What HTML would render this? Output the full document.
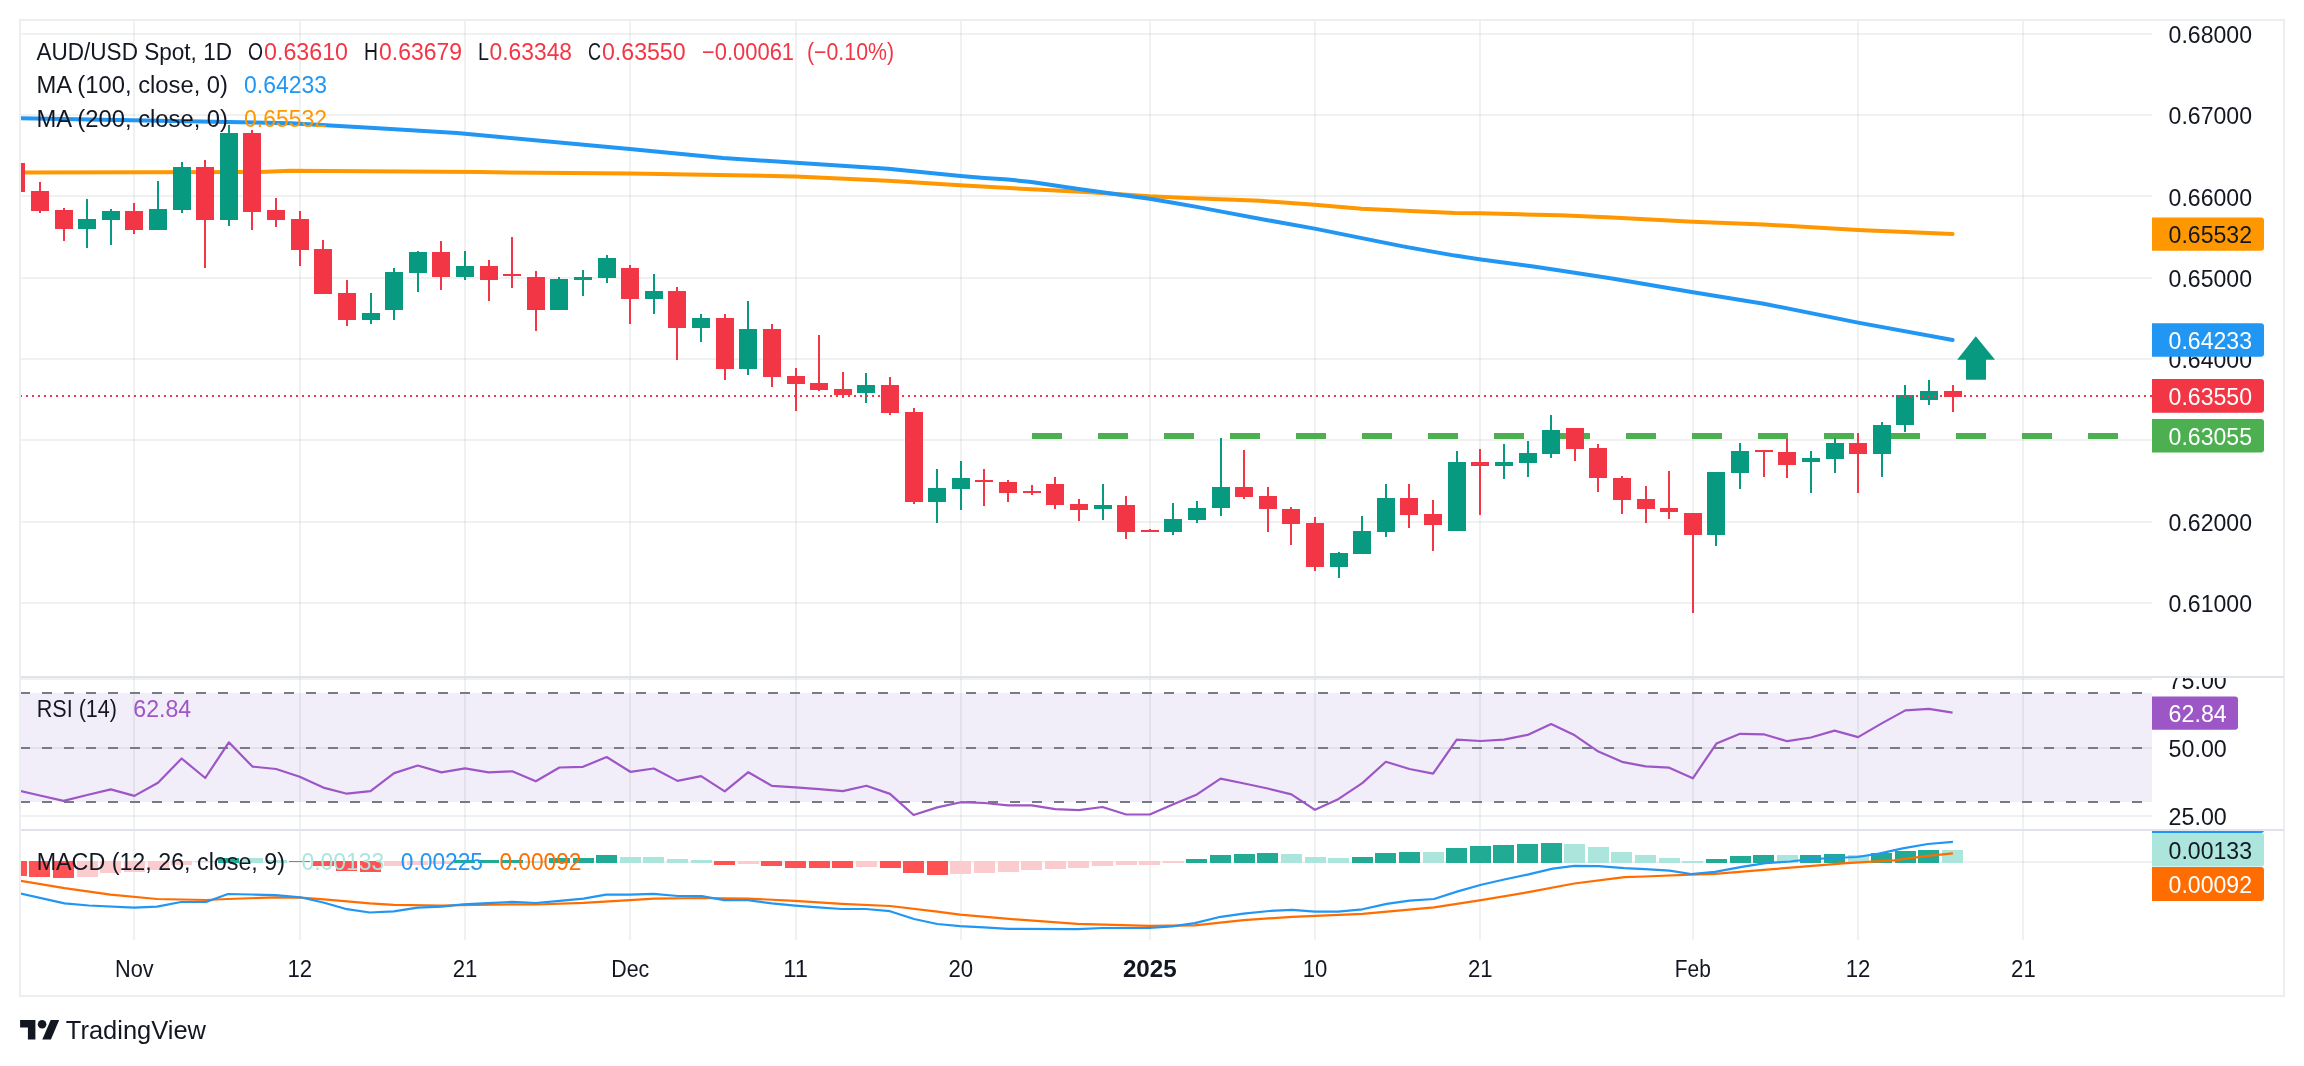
<!DOCTYPE html><html><head><meta charset="utf-8"><style>html,body{margin:0;padding:0;background:#fff;width:2304px;height:1066px;overflow:hidden}svg{display:block;will-change:transform}text{font-family:"Liberation Sans",sans-serif}</style></head><body>
<svg width="2304" height="1066" viewBox="0 0 2304 1066">
<defs><clipPath id="cm"><rect x="21" y="21" width="2131" height="655"/></clipPath><clipPath id="cr"><rect x="21" y="678" width="2131" height="152"/></clipPath><clipPath id="cd"><rect x="21" y="831" width="2131" height="109"/></clipPath><clipPath id="cra"><rect x="2152" y="678" width="132" height="152"/></clipPath><clipPath id="cda"><rect x="2152" y="831" width="132" height="109"/></clipPath></defs>
<rect width="2304" height="1066" fill="#fff"/>
<rect x="21" y="693" width="2131" height="109" fill="#f2eef9"/>
<rect x="133" y="21" width="2" height="919" fill="rgba(30,60,50,0.065)"/>
<rect x="299" y="21" width="2" height="919" fill="rgba(30,60,50,0.065)"/>
<rect x="464" y="21" width="2" height="919" fill="rgba(30,60,50,0.065)"/>
<rect x="629" y="21" width="2" height="919" fill="rgba(30,60,50,0.065)"/>
<rect x="795" y="21" width="2" height="919" fill="rgba(30,60,50,0.065)"/>
<rect x="960" y="21" width="2" height="919" fill="rgba(30,60,50,0.065)"/>
<rect x="1149" y="21" width="2" height="919" fill="rgba(30,60,50,0.065)"/>
<rect x="1314" y="21" width="2" height="919" fill="rgba(30,60,50,0.065)"/>
<rect x="1479" y="21" width="2" height="919" fill="rgba(30,60,50,0.065)"/>
<rect x="1692" y="21" width="2" height="919" fill="rgba(30,60,50,0.065)"/>
<rect x="1857" y="21" width="2" height="919" fill="rgba(30,60,50,0.065)"/>
<rect x="2022" y="21" width="2" height="919" fill="rgba(30,60,50,0.065)"/>
<rect x="21" y="33" width="2131" height="2" fill="rgba(30,60,50,0.065)"/>
<rect x="21" y="114" width="2131" height="2" fill="rgba(30,60,50,0.065)"/>
<rect x="21" y="195" width="2131" height="2" fill="rgba(30,60,50,0.065)"/>
<rect x="21" y="277" width="2131" height="2" fill="rgba(30,60,50,0.065)"/>
<rect x="21" y="358" width="2131" height="2" fill="rgba(30,60,50,0.065)"/>
<rect x="21" y="439" width="2131" height="2" fill="rgba(30,60,50,0.065)"/>
<rect x="21" y="521" width="2131" height="2" fill="rgba(30,60,50,0.065)"/>
<rect x="21" y="602" width="2131" height="2" fill="rgba(30,60,50,0.065)"/>
<rect x="21" y="678" width="2131" height="2" fill="rgba(30,60,50,0.065)"/>
<rect x="21" y="747" width="2131" height="2" fill="rgba(30,60,50,0.065)"/>
<rect x="21" y="815" width="2131" height="2" fill="rgba(30,60,50,0.065)"/>
<rect x="21" y="861" width="2131" height="2" fill="rgba(30,60,50,0.065)"/>
<g clip-path="url(#cm)">
<polyline points="20,172.5 260,171.9 291,170.8 480,172.1 630,173.6 796,176.4 888,180.8 960,185.2 1031.6,189.3 1090,192.3 1149.5,196.3 1194,198.2 1260,200.8 1314.7,204.8 1361.6,208.7 1416,211.3 1455,213 1480,213.2 1520,214.3 1560,215.2 1612,217.4 1693,221.7 1764,224.5 1858,230 1952.6,234" fill="none" stroke="#ff9800" stroke-width="4" stroke-linejoin="round" stroke-linecap="round"/>
<polyline points="20,118.3 228,121.9 291,123.3 374,128 457,133 500,137 629.7,148.9 723,158 795.8,162.8 888,168.8 960.6,176 984.3,178 1007.8,179.6 1031.4,181.9 1055,185.4 1078.6,189.1 1102.2,192.3 1125.8,195.6 1149.5,198.8 1173,202.8 1196.7,206.9 1220.3,211.4 1267.5,220.2 1314.7,228.6 1358,237.4 1403,246.4 1455,255.6 1481,259.4 1533.4,266.6 1560,270.5 1612,278.6 1693,292.2 1763.8,303.7 1858,322.6 1952.6,340" fill="none" stroke="#2196f3" stroke-width="4" stroke-linejoin="round" stroke-linecap="round"/>
<line x1="1032" y1="436" x2="2118" y2="436" stroke="#4caf50" stroke-width="6" stroke-dasharray="30 36"/>
<rect x="15" y="163" width="2" height="29" fill="#f23645"/>
<rect x="7" y="163" width="18" height="29" fill="#f23645"/>
<rect x="39" y="182" width="2" height="31" fill="#f23645"/>
<rect x="31" y="191" width="18" height="20" fill="#f23645"/>
<rect x="63" y="208" width="2" height="33" fill="#f23645"/>
<rect x="55" y="210" width="18" height="19" fill="#f23645"/>
<rect x="86" y="199" width="2" height="49" fill="#089981"/>
<rect x="78" y="219" width="18" height="10" fill="#089981"/>
<rect x="110" y="209" width="2" height="36" fill="#089981"/>
<rect x="102" y="211" width="18" height="9" fill="#089981"/>
<rect x="133" y="203" width="2" height="31" fill="#f23645"/>
<rect x="125" y="211" width="18" height="19" fill="#f23645"/>
<rect x="157" y="181" width="2" height="49" fill="#089981"/>
<rect x="149" y="209" width="18" height="21" fill="#089981"/>
<rect x="181" y="162" width="2" height="51" fill="#089981"/>
<rect x="173" y="167" width="18" height="43" fill="#089981"/>
<rect x="204" y="160" width="2" height="108" fill="#f23645"/>
<rect x="196" y="167" width="18" height="53" fill="#f23645"/>
<rect x="228" y="125" width="2" height="101" fill="#089981"/>
<rect x="220" y="133" width="18" height="87" fill="#089981"/>
<rect x="251" y="130" width="2" height="100" fill="#f23645"/>
<rect x="243" y="133" width="18" height="79" fill="#f23645"/>
<rect x="275" y="198" width="2" height="29" fill="#f23645"/>
<rect x="267" y="210" width="18" height="10" fill="#f23645"/>
<rect x="299" y="211" width="2" height="55" fill="#f23645"/>
<rect x="291" y="219" width="18" height="31" fill="#f23645"/>
<rect x="322" y="240" width="2" height="54" fill="#f23645"/>
<rect x="314" y="249" width="18" height="45" fill="#f23645"/>
<rect x="346" y="280" width="2" height="46" fill="#f23645"/>
<rect x="338" y="293" width="18" height="27" fill="#f23645"/>
<rect x="370" y="293" width="2" height="31" fill="#089981"/>
<rect x="362" y="313" width="18" height="7" fill="#089981"/>
<rect x="393" y="268" width="2" height="52" fill="#089981"/>
<rect x="385" y="272" width="18" height="38" fill="#089981"/>
<rect x="417" y="251" width="2" height="41" fill="#089981"/>
<rect x="409" y="252" width="18" height="21" fill="#089981"/>
<rect x="440" y="241" width="2" height="49" fill="#f23645"/>
<rect x="432" y="252" width="18" height="25" fill="#f23645"/>
<rect x="464" y="251" width="2" height="29" fill="#089981"/>
<rect x="456" y="266" width="18" height="11" fill="#089981"/>
<rect x="488" y="260" width="2" height="41" fill="#f23645"/>
<rect x="480" y="266" width="18" height="14" fill="#f23645"/>
<rect x="511" y="237" width="2" height="51" fill="#f23645"/>
<rect x="503" y="274" width="18" height="2" fill="#f23645"/>
<rect x="535" y="271" width="2" height="60" fill="#f23645"/>
<rect x="527" y="277" width="18" height="33" fill="#f23645"/>
<rect x="558" y="277" width="2" height="33" fill="#089981"/>
<rect x="550" y="279" width="18" height="31" fill="#089981"/>
<rect x="582" y="270" width="2" height="26" fill="#089981"/>
<rect x="574" y="277" width="18" height="3" fill="#089981"/>
<rect x="606" y="255" width="2" height="28" fill="#089981"/>
<rect x="598" y="258" width="18" height="20" fill="#089981"/>
<rect x="629" y="265" width="2" height="59" fill="#f23645"/>
<rect x="621" y="268" width="18" height="31" fill="#f23645"/>
<rect x="653" y="274" width="2" height="40" fill="#089981"/>
<rect x="645" y="291" width="18" height="8" fill="#089981"/>
<rect x="676" y="287" width="2" height="73" fill="#f23645"/>
<rect x="668" y="291" width="18" height="37" fill="#f23645"/>
<rect x="700" y="314" width="2" height="28" fill="#089981"/>
<rect x="692" y="318" width="18" height="10" fill="#089981"/>
<rect x="724" y="314" width="2" height="66" fill="#f23645"/>
<rect x="716" y="318" width="18" height="51" fill="#f23645"/>
<rect x="747" y="301" width="2" height="74" fill="#089981"/>
<rect x="739" y="329" width="18" height="40" fill="#089981"/>
<rect x="771" y="324" width="2" height="63" fill="#f23645"/>
<rect x="763" y="329" width="18" height="48" fill="#f23645"/>
<rect x="795" y="368" width="2" height="43" fill="#f23645"/>
<rect x="787" y="376" width="18" height="8" fill="#f23645"/>
<rect x="818" y="335" width="2" height="56" fill="#f23645"/>
<rect x="810" y="383" width="18" height="7" fill="#f23645"/>
<rect x="842" y="372" width="2" height="26" fill="#f23645"/>
<rect x="834" y="389" width="18" height="6" fill="#f23645"/>
<rect x="865" y="373" width="2" height="30" fill="#089981"/>
<rect x="857" y="385" width="18" height="8" fill="#089981"/>
<rect x="889" y="377" width="2" height="38" fill="#f23645"/>
<rect x="881" y="385" width="18" height="28" fill="#f23645"/>
<rect x="913" y="408" width="2" height="96" fill="#f23645"/>
<rect x="905" y="412" width="18" height="90" fill="#f23645"/>
<rect x="936" y="469" width="2" height="54" fill="#089981"/>
<rect x="928" y="488" width="18" height="14" fill="#089981"/>
<rect x="960" y="461" width="2" height="49" fill="#089981"/>
<rect x="952" y="478" width="18" height="11" fill="#089981"/>
<rect x="983" y="469" width="2" height="37" fill="#f23645"/>
<rect x="975" y="480" width="18" height="2" fill="#f23645"/>
<rect x="1007" y="480" width="2" height="22" fill="#f23645"/>
<rect x="999" y="482" width="18" height="11" fill="#f23645"/>
<rect x="1031" y="485" width="2" height="10" fill="#f23645"/>
<rect x="1023" y="491" width="18" height="2" fill="#f23645"/>
<rect x="1054" y="477" width="2" height="32" fill="#f23645"/>
<rect x="1046" y="484" width="18" height="21" fill="#f23645"/>
<rect x="1078" y="499" width="2" height="22" fill="#f23645"/>
<rect x="1070" y="504" width="18" height="6" fill="#f23645"/>
<rect x="1102" y="484" width="2" height="36" fill="#089981"/>
<rect x="1094" y="505" width="18" height="4" fill="#089981"/>
<rect x="1125" y="496" width="2" height="43" fill="#f23645"/>
<rect x="1117" y="505" width="18" height="27" fill="#f23645"/>
<rect x="1149" y="529" width="2" height="3" fill="#f23645"/>
<rect x="1141" y="530" width="18" height="2" fill="#f23645"/>
<rect x="1172" y="503" width="2" height="32" fill="#089981"/>
<rect x="1164" y="519" width="18" height="13" fill="#089981"/>
<rect x="1196" y="501" width="2" height="22" fill="#089981"/>
<rect x="1188" y="508" width="18" height="12" fill="#089981"/>
<rect x="1220" y="438" width="2" height="78" fill="#089981"/>
<rect x="1212" y="487" width="18" height="21" fill="#089981"/>
<rect x="1243" y="450" width="2" height="49" fill="#f23645"/>
<rect x="1235" y="487" width="18" height="10" fill="#f23645"/>
<rect x="1267" y="487" width="2" height="45" fill="#f23645"/>
<rect x="1259" y="496" width="18" height="13" fill="#f23645"/>
<rect x="1290" y="507" width="2" height="38" fill="#f23645"/>
<rect x="1282" y="509" width="18" height="15" fill="#f23645"/>
<rect x="1314" y="517" width="2" height="54" fill="#f23645"/>
<rect x="1306" y="523" width="18" height="44" fill="#f23645"/>
<rect x="1338" y="552" width="2" height="26" fill="#089981"/>
<rect x="1330" y="553" width="18" height="14" fill="#089981"/>
<rect x="1361" y="516" width="2" height="38" fill="#089981"/>
<rect x="1353" y="531" width="18" height="23" fill="#089981"/>
<rect x="1385" y="484" width="2" height="53" fill="#089981"/>
<rect x="1377" y="498" width="18" height="34" fill="#089981"/>
<rect x="1408" y="484" width="2" height="44" fill="#f23645"/>
<rect x="1400" y="498" width="18" height="17" fill="#f23645"/>
<rect x="1432" y="500" width="2" height="51" fill="#f23645"/>
<rect x="1424" y="514" width="18" height="11" fill="#f23645"/>
<rect x="1456" y="451" width="2" height="80" fill="#089981"/>
<rect x="1448" y="462" width="18" height="69" fill="#089981"/>
<rect x="1479" y="449" width="2" height="66" fill="#f23645"/>
<rect x="1471" y="462" width="18" height="4" fill="#f23645"/>
<rect x="1503" y="444" width="2" height="35" fill="#089981"/>
<rect x="1495" y="462" width="18" height="4" fill="#089981"/>
<rect x="1527" y="441" width="2" height="36" fill="#089981"/>
<rect x="1519" y="453" width="18" height="10" fill="#089981"/>
<rect x="1550" y="415" width="2" height="43" fill="#089981"/>
<rect x="1542" y="430" width="18" height="24" fill="#089981"/>
<rect x="1574" y="428" width="2" height="33" fill="#f23645"/>
<rect x="1566" y="428" width="18" height="21" fill="#f23645"/>
<rect x="1597" y="444" width="2" height="48" fill="#f23645"/>
<rect x="1589" y="448" width="18" height="30" fill="#f23645"/>
<rect x="1621" y="476" width="2" height="38" fill="#f23645"/>
<rect x="1613" y="478" width="18" height="22" fill="#f23645"/>
<rect x="1645" y="486" width="2" height="37" fill="#f23645"/>
<rect x="1637" y="499" width="18" height="10" fill="#f23645"/>
<rect x="1668" y="471" width="2" height="48" fill="#f23645"/>
<rect x="1660" y="508" width="18" height="4" fill="#f23645"/>
<rect x="1692" y="513" width="2" height="100" fill="#f23645"/>
<rect x="1684" y="513" width="18" height="22" fill="#f23645"/>
<rect x="1715" y="472" width="2" height="74" fill="#089981"/>
<rect x="1707" y="472" width="18" height="63" fill="#089981"/>
<rect x="1739" y="443" width="2" height="46" fill="#089981"/>
<rect x="1731" y="451" width="18" height="22" fill="#089981"/>
<rect x="1763" y="450" width="2" height="27" fill="#f23645"/>
<rect x="1755" y="450" width="18" height="2" fill="#f23645"/>
<rect x="1786" y="439" width="2" height="39" fill="#f23645"/>
<rect x="1778" y="452" width="18" height="13" fill="#f23645"/>
<rect x="1810" y="451" width="2" height="42" fill="#089981"/>
<rect x="1802" y="458" width="18" height="4" fill="#089981"/>
<rect x="1834" y="438" width="2" height="35" fill="#089981"/>
<rect x="1826" y="443" width="18" height="16" fill="#089981"/>
<rect x="1857" y="433" width="2" height="60" fill="#f23645"/>
<rect x="1849" y="443" width="18" height="11" fill="#f23645"/>
<rect x="1881" y="422" width="2" height="55" fill="#089981"/>
<rect x="1873" y="425" width="18" height="29" fill="#089981"/>
<rect x="1904" y="385" width="2" height="47" fill="#089981"/>
<rect x="1896" y="395" width="18" height="30" fill="#089981"/>
<rect x="1928" y="380" width="2" height="25" fill="#089981"/>
<rect x="1920" y="391" width="18" height="9" fill="#089981"/>
<rect x="1952" y="385" width="2" height="27" fill="#f23645"/>
<rect x="1944" y="391" width="18" height="6" fill="#f23645"/>
<line x1="20" y1="396" x2="2152" y2="396" stroke="#f23645" stroke-width="2" stroke-dasharray="2 4"/>
<path d="M1975.8,336.3 L1995,359.7 L1986,359.7 L1986,379.8 L1966,379.8 L1966,359.7 L1957.2,359.7 Z" fill="#089981"/>
</g>
<g clip-path="url(#cr)">
<line x1="20" y1="693" x2="2152" y2="693" stroke="#787b86" stroke-width="2" stroke-dasharray="10 12"/>
<line x1="20" y1="748" x2="2152" y2="748" stroke="#787b86" stroke-width="2" stroke-dasharray="10 12"/>
<line x1="20" y1="802" x2="2152" y2="802" stroke="#787b86" stroke-width="2" stroke-dasharray="10 12"/>
<polyline points="16.34,790.2 39.95,795.5 63.56,800.9 87.18,795 110.79,789.4 134.4,795.9 158.01,782.8 181.62,758.5 205.24,778 228.85,742.3 252.46,766.6 276.08,769 299.69,776.8 323.3,787.6 346.91,793.7 370.52,791.1 394.14,773.1 417.75,765.5 441.36,772.4 464.98,768.3 488.59,772.4 512.2,771.3 535.81,781.3 559.43,767.5 583.04,766.8 606.65,757 630.26,771.8 653.88,768.5 677.49,780.9 701.1,776.1 724.71,791.3 748.33,772.2 771.94,785.9 795.55,787.4 819.16,789.2 842.77,791.1 866.39,785.7 890,793.9 913.61,815 937.23,807.4 960.84,802.2 984.45,803 1008.06,805.4 1031.67,805.4 1055.29,809.1 1078.9,810.2 1102.51,807 1126.12,814.5 1149.74,814.5 1173.35,804.3 1196.96,794.4 1220.58,778.7 1244.19,783.5 1267.8,788.5 1291.41,794.4 1315.03,809.8 1338.64,798.9 1362.25,783.1 1385.86,761.8 1409.48,769 1433.09,773.7 1456.7,739.7 1480.31,741 1503.93,739.7 1527.54,734.9 1551.15,724 1574.76,735.3 1598.38,751.6 1621.99,761.8 1645.6,766.4 1669.21,767.7 1692.83,778.3 1716.44,743.6 1740.05,733.8 1763.66,734.3 1787.28,741.2 1810.89,737.5 1834.5,730.6 1858.11,737.1 1881.73,723.4 1905.34,710.4 1928.95,708.9 1952.56,712.6" fill="none" stroke="#9d56c6" stroke-width="2.2" stroke-linejoin="round"/>
</g>
<g clip-path="url(#cd)">
<rect x="6" y="861" width="21" height="15" fill="#ff5252"/>
<rect x="29" y="861" width="21" height="16" fill="#ff5252"/>
<rect x="53" y="861" width="21" height="17" fill="#ff5252"/>
<rect x="77" y="861" width="21" height="16" fill="#fccbcd"/>
<rect x="100" y="861" width="21" height="12" fill="#fccbcd"/>
<rect x="124" y="861" width="21" height="11" fill="#fccbcd"/>
<rect x="148" y="861" width="21" height="9" fill="#fccbcd"/>
<rect x="171" y="861" width="21" height="4" fill="#fccbcd"/>
<rect x="195" y="861" width="21" height="1" fill="#fccbcd"/>
<rect x="218" y="858" width="21" height="5" fill="#22ab94"/>
<rect x="242" y="858" width="21" height="5" fill="#ace5dc"/>
<rect x="266" y="860" width="21" height="3" fill="#ace5dc"/>
<rect x="289" y="861" width="21" height="1" fill="#ff5252"/>
<rect x="313" y="861" width="21" height="5" fill="#ff5252"/>
<rect x="336" y="861" width="21" height="10" fill="#ff5252"/>
<rect x="360" y="861" width="21" height="11" fill="#ff5252"/>
<rect x="384" y="861" width="21" height="5" fill="#fccbcd"/>
<rect x="407" y="861" width="21" height="4" fill="#fccbcd"/>
<rect x="431" y="861" width="21" height="3" fill="#fccbcd"/>
<rect x="454" y="860" width="21" height="3" fill="#22ab94"/>
<rect x="478" y="860" width="21" height="3" fill="#22ab94"/>
<rect x="502" y="860" width="21" height="3" fill="#22ab94"/>
<rect x="525" y="861" width="21" height="2" fill="#ace5dc"/>
<rect x="549" y="858" width="21" height="5" fill="#22ab94"/>
<rect x="573" y="858" width="21" height="5" fill="#22ab94"/>
<rect x="596" y="855" width="21" height="8" fill="#22ab94"/>
<rect x="620" y="857" width="21" height="6" fill="#ace5dc"/>
<rect x="643" y="857" width="21" height="6" fill="#ace5dc"/>
<rect x="667" y="859" width="21" height="4" fill="#ace5dc"/>
<rect x="691" y="860" width="21" height="3" fill="#ace5dc"/>
<rect x="714" y="861" width="21" height="4" fill="#ff5252"/>
<rect x="738" y="861" width="21" height="3" fill="#fccbcd"/>
<rect x="761" y="861" width="21" height="5" fill="#ff5252"/>
<rect x="785" y="861" width="21" height="7" fill="#ff5252"/>
<rect x="809" y="861" width="21" height="7" fill="#ff5252"/>
<rect x="832" y="861" width="21" height="7" fill="#ff5252"/>
<rect x="856" y="861" width="21" height="6" fill="#fccbcd"/>
<rect x="880" y="861" width="21" height="7" fill="#ff5252"/>
<rect x="903" y="861" width="21" height="12" fill="#ff5252"/>
<rect x="927" y="861" width="21" height="14" fill="#ff5252"/>
<rect x="950" y="861" width="21" height="13" fill="#fccbcd"/>
<rect x="974" y="861" width="21" height="12" fill="#fccbcd"/>
<rect x="998" y="861" width="21" height="11" fill="#fccbcd"/>
<rect x="1021" y="861" width="21" height="9" fill="#fccbcd"/>
<rect x="1045" y="861" width="21" height="8" fill="#fccbcd"/>
<rect x="1068" y="861" width="21" height="7" fill="#fccbcd"/>
<rect x="1092" y="861" width="21" height="5" fill="#fccbcd"/>
<rect x="1116" y="861" width="21" height="4" fill="#fccbcd"/>
<rect x="1139" y="861" width="21" height="4" fill="#fccbcd"/>
<rect x="1163" y="861" width="21" height="2" fill="#fccbcd"/>
<rect x="1186" y="859" width="21" height="4" fill="#22ab94"/>
<rect x="1210" y="855" width="21" height="8" fill="#22ab94"/>
<rect x="1234" y="854" width="21" height="9" fill="#22ab94"/>
<rect x="1257" y="853" width="21" height="10" fill="#22ab94"/>
<rect x="1281" y="854" width="21" height="9" fill="#ace5dc"/>
<rect x="1305" y="857" width="21" height="6" fill="#ace5dc"/>
<rect x="1328" y="858" width="21" height="5" fill="#ace5dc"/>
<rect x="1352" y="857" width="21" height="6" fill="#22ab94"/>
<rect x="1375" y="853" width="21" height="10" fill="#22ab94"/>
<rect x="1399" y="852" width="21" height="11" fill="#22ab94"/>
<rect x="1423" y="852" width="21" height="11" fill="#ace5dc"/>
<rect x="1446" y="848" width="21" height="15" fill="#22ab94"/>
<rect x="1470" y="846" width="21" height="17" fill="#22ab94"/>
<rect x="1493" y="845" width="21" height="18" fill="#22ab94"/>
<rect x="1517" y="844" width="21" height="19" fill="#22ab94"/>
<rect x="1541" y="843" width="21" height="20" fill="#22ab94"/>
<rect x="1564" y="844" width="21" height="19" fill="#ace5dc"/>
<rect x="1588" y="847" width="21" height="16" fill="#ace5dc"/>
<rect x="1611" y="852" width="21" height="11" fill="#ace5dc"/>
<rect x="1635" y="855" width="21" height="8" fill="#ace5dc"/>
<rect x="1659" y="858" width="21" height="5" fill="#ace5dc"/>
<rect x="1682" y="861" width="21" height="2" fill="#ace5dc"/>
<rect x="1706" y="859" width="21" height="4" fill="#22ab94"/>
<rect x="1730" y="856" width="21" height="7" fill="#22ab94"/>
<rect x="1753" y="855" width="21" height="8" fill="#22ab94"/>
<rect x="1777" y="855" width="21" height="8" fill="#ace5dc"/>
<rect x="1800" y="855" width="21" height="8" fill="#22ab94"/>
<rect x="1824" y="854" width="21" height="9" fill="#22ab94"/>
<rect x="1848" y="855" width="21" height="8" fill="#ace5dc"/>
<rect x="1871" y="853" width="21" height="10" fill="#22ab94"/>
<rect x="1895" y="851" width="21" height="12" fill="#22ab94"/>
<rect x="1918" y="850" width="21" height="13" fill="#22ab94"/>
<rect x="1942" y="850" width="21" height="13" fill="#ace5dc"/>
<polyline points="16,880 64.5,888.2 110.5,894.7 157,899 206,900 228,899 275.4,897.3 300.4,897.7 324.2,899.4 369.8,903.4 393.7,904.9 441.4,905.5 512,904.4 535.8,904.5 583.5,902.8 629.8,900.1 653.6,898.6 701.8,898 748,898.6 795,900.8 841.8,903.8 890,906 937.3,911.6 960,914.7 1000,918.2 1077.3,923.9 1149,925.9 1194.8,925.4 1243.5,920.2 1292.2,916.8 1362.4,913.9 1434,907.3 1481.2,900.2 1528.5,892.1 1574.3,883.5 1624.5,877.2 1645,876.5 1691,874.7 1715,873.8 1772.8,869.1 1846.6,863.2 1893.8,860.3 1927.8,855.8 1952.9,853.3" fill="none" stroke="#ff6d00" stroke-width="2.2" stroke-linejoin="round"/>
<polyline points="16,892.5 64.5,903.4 88.8,905.5 133.9,907.7 157.1,906.6 181,902 206,902 228,894 251.5,894.5 275.4,895.1 300.4,897.3 324.2,902.7 347,909.2 369.8,912.5 393.7,911.4 417.6,907.7 441.4,906.6 463.1,904.4 488.1,903.1 512,901.9 535.8,903 559.7,900.8 583.5,898.6 606,894.7 629.8,894.7 653.6,893.9 678,896 701.8,896 724,900.1 748,900.1 772,903.4 795,905.6 818,907.3 841.8,909 865.7,909 890,911.2 914,919 937.3,924 960,926.2 984,927.3 1008.6,928.8 1077.3,929.1 1103,928 1149,928 1172,926.3 1194.8,923.1 1220.6,916.8 1243.5,913.6 1269.3,911 1292.2,909.9 1315,911.6 1338,911.6 1362.4,909.3 1386.7,903.9 1409.6,900.7 1434,899 1456.9,891.6 1481.2,884.7 1504.2,879.5 1528.5,874.4 1552.8,868.6 1574.3,865.8 1598.7,866.1 1624.5,868.1 1645,869.2 1669.5,870.6 1691,874 1715,871.8 1741.8,866.9 1765.4,863.2 1790,861.5 1811,859.2 1834,858 1857,857 1879,853.6 1902.7,848.4 1927.8,844 1952.9,841.8" fill="none" stroke="#2196f3" stroke-width="2.2" stroke-linejoin="round"/>
</g>
<rect x="20" y="20" width="2264" height="976" fill="none" stroke="#eceef2" stroke-width="2"/>
<rect x="21" y="676" width="2263" height="2" fill="#e0e3eb"/>
<rect x="21" y="829" width="2263" height="2" fill="#e0e3eb"/>
<text x="36.4" y="59.8" textLength="195.6" lengthAdjust="spacingAndGlyphs" font-size="23.5" fill="#131722" font-weight="normal">AUD/USD Spot, 1D</text>
<text x="248" y="59.8" textLength="15" lengthAdjust="spacingAndGlyphs" font-size="23.5" fill="#131722" font-weight="normal">O</text>
<text x="264" y="59.8" textLength="84" lengthAdjust="spacingAndGlyphs" font-size="23.5" fill="#f23645" font-weight="normal">0.63610</text>
<text x="364" y="59.8" textLength="14" lengthAdjust="spacingAndGlyphs" font-size="23.5" fill="#131722" font-weight="normal">H</text>
<text x="379" y="59.8" textLength="83" lengthAdjust="spacingAndGlyphs" font-size="23.5" fill="#f23645" font-weight="normal">0.63679</text>
<text x="478" y="59.8" textLength="11" lengthAdjust="spacingAndGlyphs" font-size="23.5" fill="#131722" font-weight="normal">L</text>
<text x="489.6" y="59.8" textLength="82.4" lengthAdjust="spacingAndGlyphs" font-size="23.5" fill="#f23645" font-weight="normal">0.63348</text>
<text x="588" y="59.8" textLength="13" lengthAdjust="spacingAndGlyphs" font-size="23.5" fill="#131722" font-weight="normal">C</text>
<text x="602" y="59.8" textLength="83.6" lengthAdjust="spacingAndGlyphs" font-size="23.5" fill="#f23645" font-weight="normal">0.63550</text>
<text x="702" y="59.8" textLength="92" lengthAdjust="spacingAndGlyphs" font-size="23.5" fill="#f23645" font-weight="normal">−0.00061</text>
<text x="807" y="59.8" textLength="87" lengthAdjust="spacingAndGlyphs" font-size="23.5" fill="#f23645" font-weight="normal">(−0.10%)</text>
<text x="36.4" y="92.5" textLength="191.6" lengthAdjust="spacingAndGlyphs" font-size="23.5" fill="#131722" font-weight="normal">MA (100, close, 0)</text>
<text x="244" y="92.5" textLength="83" lengthAdjust="spacingAndGlyphs" font-size="23.5" fill="#2196f3" font-weight="normal">0.64233</text>
<text x="36.4" y="127" textLength="191.6" lengthAdjust="spacingAndGlyphs" font-size="23.5" fill="#131722" font-weight="normal">MA (200, close, 0)</text>
<text x="244" y="127" textLength="83" lengthAdjust="spacingAndGlyphs" font-size="23.5" fill="#ff9800" font-weight="normal">0.65532</text>
<text x="36.7" y="716.7" textLength="80.3" lengthAdjust="spacingAndGlyphs" font-size="23.5" fill="#131722" font-weight="normal">RSI (14)</text>
<text x="133.3" y="716.7" textLength="57.9" lengthAdjust="spacingAndGlyphs" font-size="23.5" fill="#9d56c6" font-weight="normal">62.84</text>
<text x="36.7" y="869.6" textLength="248.3" lengthAdjust="spacingAndGlyphs" font-size="23.5" fill="#131722" font-weight="normal">MACD (12, 26, close, 9)</text>
<text x="301.5" y="869.6" textLength="82.7" lengthAdjust="spacingAndGlyphs" font-size="23.5" fill="#ace5dc" font-weight="normal">0.00133</text>
<text x="400.8" y="869.6" textLength="82.2" lengthAdjust="spacingAndGlyphs" font-size="23.5" fill="#2196f3" font-weight="normal">0.00225</text>
<text x="499.4" y="869.6" textLength="82" lengthAdjust="spacingAndGlyphs" font-size="23.5" fill="#ff6d00" font-weight="normal">0.00092</text>
<text x="2168.6" y="43" textLength="83.4" lengthAdjust="spacingAndGlyphs" font-size="23.5" fill="#131722" font-weight="normal">0.68000</text>
<text x="2168.6" y="124.3" textLength="83.4" lengthAdjust="spacingAndGlyphs" font-size="23.5" fill="#131722" font-weight="normal">0.67000</text>
<text x="2168.6" y="205.6" textLength="83.4" lengthAdjust="spacingAndGlyphs" font-size="23.5" fill="#131722" font-weight="normal">0.66000</text>
<text x="2168.6" y="286.9" textLength="83.4" lengthAdjust="spacingAndGlyphs" font-size="23.5" fill="#131722" font-weight="normal">0.65000</text>
<text x="2168.6" y="368.2" textLength="83.4" lengthAdjust="spacingAndGlyphs" font-size="23.5" fill="#131722" font-weight="normal">0.64000</text>
<text x="2168.6" y="449.5" textLength="83.4" lengthAdjust="spacingAndGlyphs" font-size="23.5" fill="#131722" font-weight="normal">0.63000</text>
<text x="2168.6" y="530.8" textLength="83.4" lengthAdjust="spacingAndGlyphs" font-size="23.5" fill="#131722" font-weight="normal">0.62000</text>
<text x="2168.6" y="612.1" textLength="83.4" lengthAdjust="spacingAndGlyphs" font-size="23.5" fill="#131722" font-weight="normal">0.61000</text>
<g clip-path="url(#cra)">
<text x="2168.6" y="688.5" textLength="58.2" lengthAdjust="spacingAndGlyphs" font-size="23.5" fill="#131722" font-weight="normal">75.00</text>
</g>
<text x="2168.6" y="757" textLength="58.2" lengthAdjust="spacingAndGlyphs" font-size="23.5" fill="#131722" font-weight="normal">50.00</text>
<text x="2168.6" y="825" textLength="58.2" lengthAdjust="spacingAndGlyphs" font-size="23.5" fill="#131722" font-weight="normal">25.00</text>
<path d="M2152,217.5 H2261 Q2264,217.5 2264,220.5 V247.7 Q2264,250.7 2261,250.7 H2152 Z" fill="#ff9800"/>
<text x="2168.6" y="243.1" textLength="83.4" lengthAdjust="spacingAndGlyphs" font-size="23.5" fill="#131722" font-weight="normal">0.65532</text>
<path d="M2152,323.3 H2261 Q2264,323.3 2264,326.3 V353.8 Q2264,356.8 2261,356.8 H2152 Z" fill="#2196f3"/>
<text x="2168.6" y="349.05" textLength="83.4" lengthAdjust="spacingAndGlyphs" font-size="23.5" fill="#fff" font-weight="normal">0.64233</text>
<path d="M2152,379 H2261 Q2264,379 2264,382 V409.7 Q2264,412.7 2261,412.7 H2152 Z" fill="#f23645"/>
<text x="2168.6" y="404.85" textLength="83.4" lengthAdjust="spacingAndGlyphs" font-size="23.5" fill="#fff" font-weight="normal">0.63550</text>
<path d="M2152,419 H2261 Q2264,419 2264,422 V449.5 Q2264,452.5 2261,452.5 H2152 Z" fill="#4caf50"/>
<text x="2168.6" y="444.75" textLength="83.4" lengthAdjust="spacingAndGlyphs" font-size="23.5" fill="#fff" font-weight="normal">0.63055</text>
<path d="M2152,696.4 H2235 Q2238,696.4 2238,699.4 V726.7 Q2238,729.7 2235,729.7 H2152 Z" fill="#9d56c6"/>
<text x="2168.6" y="722.05" textLength="58.2" lengthAdjust="spacingAndGlyphs" font-size="23.5" fill="#fff" font-weight="normal">62.84</text>
<g clip-path="url(#cda)">
<path d="M2152,800 H2261 Q2264,800 2264,803 V830.1 Q2264,833.1 2261,833.1 H2152 Z" fill="#2196f3"/>
<text x="2168.6" y="825.55" textLength="83.4" lengthAdjust="spacingAndGlyphs" font-size="23.5" fill="#fff" font-weight="normal">0.00225</text>
</g>
<path d="M2152,833.1 H2261 Q2264,833.1 2264,836.1 V863.5 Q2264,866.5 2261,866.5 H2152 Z" fill="#ace5dc"/>
<text x="2168.6" y="858.8" textLength="83.4" lengthAdjust="spacingAndGlyphs" font-size="23.5" fill="#131722" font-weight="normal">0.00133</text>
<path d="M2152,867.1 H2261 Q2264,867.1 2264,870.1 V897.9 Q2264,900.9 2261,900.9 H2152 Z" fill="#ff6d00"/>
<text x="2168.6" y="893" textLength="83.4" lengthAdjust="spacingAndGlyphs" font-size="23.5" fill="#fff" font-weight="normal">0.00092</text>
<text x="115.1" y="976.7" textLength="38.6" lengthAdjust="spacingAndGlyphs" font-size="23.5" fill="#131722" font-weight="normal">Nov</text>
<text x="287.39" y="976.7" textLength="24.6" lengthAdjust="spacingAndGlyphs" font-size="23.5" fill="#131722" font-weight="normal">12</text>
<text x="452.68" y="976.7" textLength="24.6" lengthAdjust="spacingAndGlyphs" font-size="23.5" fill="#131722" font-weight="normal">21</text>
<text x="611.26" y="976.7" textLength="38" lengthAdjust="spacingAndGlyphs" font-size="23.5" fill="#131722" font-weight="normal">Dec</text>
<text x="783.25" y="976.7" textLength="24.6" lengthAdjust="spacingAndGlyphs" font-size="23.5" fill="#131722" font-weight="normal">11</text>
<text x="948.54" y="976.7" textLength="24.6" lengthAdjust="spacingAndGlyphs" font-size="23.5" fill="#131722" font-weight="normal">20</text>
<text x="1122.9" y="976.7" textLength="53.8" lengthAdjust="spacingAndGlyphs" font-size="23.5" fill="#131722" font-weight="bold">2025</text>
<text x="1302.73" y="976.7" textLength="24.6" lengthAdjust="spacingAndGlyphs" font-size="23.5" fill="#131722" font-weight="normal">10</text>
<text x="1468.01" y="976.7" textLength="24.6" lengthAdjust="spacingAndGlyphs" font-size="23.5" fill="#131722" font-weight="normal">21</text>
<text x="1674.83" y="976.7" textLength="36" lengthAdjust="spacingAndGlyphs" font-size="23.5" fill="#131722" font-weight="normal">Feb</text>
<text x="1845.81" y="976.7" textLength="24.6" lengthAdjust="spacingAndGlyphs" font-size="23.5" fill="#131722" font-weight="normal">12</text>
<text x="2011.1" y="976.7" textLength="24.6" lengthAdjust="spacingAndGlyphs" font-size="23.5" fill="#131722" font-weight="normal">21</text>
<path d="M20.1,1020 H35.4 V1039.5 H27.9 V1027.6 H20.1 Z" fill="#131722"/>
<circle cx="42.1" cy="1024.3" r="4.3" fill="#131722"/>
<path d="M50.7,1020 H59.2 L50.9,1039.5 H42.3 Z" fill="#131722"/>
<text x="65.8" y="1039.3" textLength="140.2" lengthAdjust="spacingAndGlyphs" font-size="26" fill="#131722" font-weight="normal">TradingView</text>
</svg></body></html>
